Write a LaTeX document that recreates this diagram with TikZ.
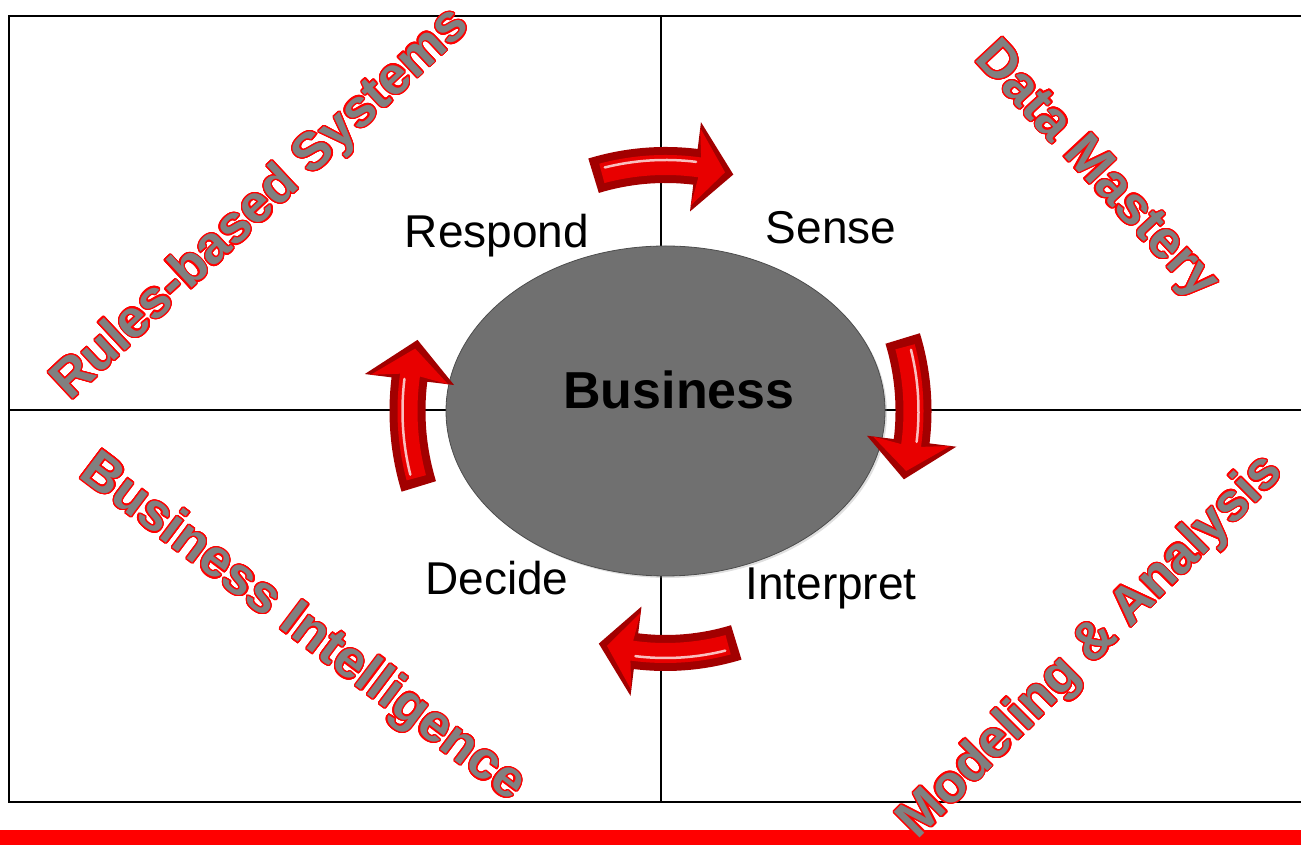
\documentclass[tikz,border=0pt]{standalone}
\usepackage{fontspec}
\setmainfont{Liberation Sans}
\usepackage{contour}
\contourlength{1.3pt}
\contournumber{24}
\usetikzlibrary{shapes.geometric,calc,shadows}

\definecolor{bizgray}{HTML}{707070}
\definecolor{wordgray}{HTML}{808080}
\definecolor{arrowred}{HTML}{E80000}

\tikzset{
  quadtext/.style={font=\fontsize{53}{53}\selectfont\bfseries, inner sep=0pt},
  steplabel/.style={font=\fontsize{46}{46}\selectfont, inner sep=0pt},
  gridline/.style={line width=1.4pt},
}

% outlined word art: gray letters with a red rim
\newcommand{\wordart}[1]{\contour{red}{\textcolor{wordgray}{#1}}}

% curved block arrow round the hub: #1 = axis angle, #2 = radius
\newcommand{\cyclearrow}[2]{%
  \pgfmathsetmacro{\arrS}{#1+17}%
  \pgfmathsetmacro{\arrH}{#1-7}%
  \pgfmathsetmacro{\arrT}{#1-16}%
  \pgfmathsetmacro{\rOut}{#2+18}%
  \pgfmathsetmacro{\rIn}{#2-18}%
  \pgfmathsetmacro{\rHo}{#2+45}%
  \pgfmathsetmacro{\rHi}{#2-45}%
  \pgfmathsetmacro{\rBo}{#2+10}%
  \pgfmathsetmacro{\rBi}{#2-10}%
  \pgfmathsetmacro{\rHl}{#2+5}%
  \pgfmathsetmacro{\arrSs}{#1+15}%
  \pgfmathsetmacro{\arrHs}{#1-8}%
  \fill[arrowred!70!black]
    ($(hub)+(\arrS:\rOut)$) arc[start angle=\arrS, end angle=\arrH, radius=\rOut]
    -- ($(hub)+(\arrH:\rHo)$) -- ($(hub)+(\arrT:#2)$) -- ($(hub)+(\arrH:\rHi)$)
    -- ($(hub)+(\arrH:\rIn)$) arc[start angle=\arrH, end angle=\arrS, radius=\rIn] -- cycle;
  \fill[arrowred]
    ($(hub)+(\arrSs:\rBo)$) arc[start angle=\arrSs, end angle=\arrHs, radius=\rBo]
    -- ($(hub)+(\arrH:\rHo-6)$) -- ($(hub)+(\arrT+2:#2)$) -- ($(hub)+(\arrH:\rHi+6)$)
    -- ($(hub)+(\arrHs:\rBi)$) arc[start angle=\arrHs, end angle=\arrSs, radius=\rBi] -- cycle;
  \draw[white, opacity=0.75, line width=2.5pt, line cap=round]
    ($(hub)+(\arrSs-1:\rHl)$) arc[start angle=\arrSs-1, end angle=\arrHs+1, radius=\rHl];
}

\begin{document}
\begin{tikzpicture}[x=1pt,y=1pt]
  \useasboundingbox (0,0) rectangle (1301,845);

  % Draw the four quadrants and the red bar
  \draw[gridline] (9,43) rectangle (1320,829);
  \draw[gridline] (661,43) -- (661,829);
  \draw[gridline] (9,435) -- (1320,435);
  \fill[red] (0,0) rectangle (1301,15);

  % Draw the business in the middle
  \coordinate (hub) at (665.5,434);
  \node[ellipse, fill=bizgray, draw=black!70, line width=0.8pt,
        minimum width=439pt, minimum height=330pt, inner sep=0pt,
        drop shadow={opacity=0.25, shadow xshift=2pt, shadow yshift=-2pt}] (biz) at (hub) {};
  \node[font=\fontsize{52}{52}\selectfont\bfseries, inner sep=0pt] (biztext) at (679,455) {Business};

  % Draw the cycle arrows
  \cyclearrow{90}{246}
  \cyclearrow{0}{248}
  \cyclearrow{-90}{242}
  \cyclearrow{180}{258}

  % Draw the steps of the cycle
  \node[steplabel] (respond) at (497,609) {Respond};
  \node[steplabel] (sense) at (831,617) {Sense};
  \node[steplabel] (decide) at (497,267) {Decide};
  \node[steplabel] (interpret) at (831,257) {Interpret};

  % Draw the names of the quadrants
  \node[quadtext, rotate=43] (rules) at (262,640) {\wordart{Rules-based Systems}};
  \node[quadtext, rotate=-47] (data) at (1095,673) {\wordart{Data Mastery}};
  \node[quadtext, rotate=-37] (bi) at (302,216) {\wordart{Business Intelligence}};
  \node[quadtext, rotate=45] (model) at (1092,197) {\wordart{Modeling \& Analysis}};
\end{tikzpicture}
\end{document}
